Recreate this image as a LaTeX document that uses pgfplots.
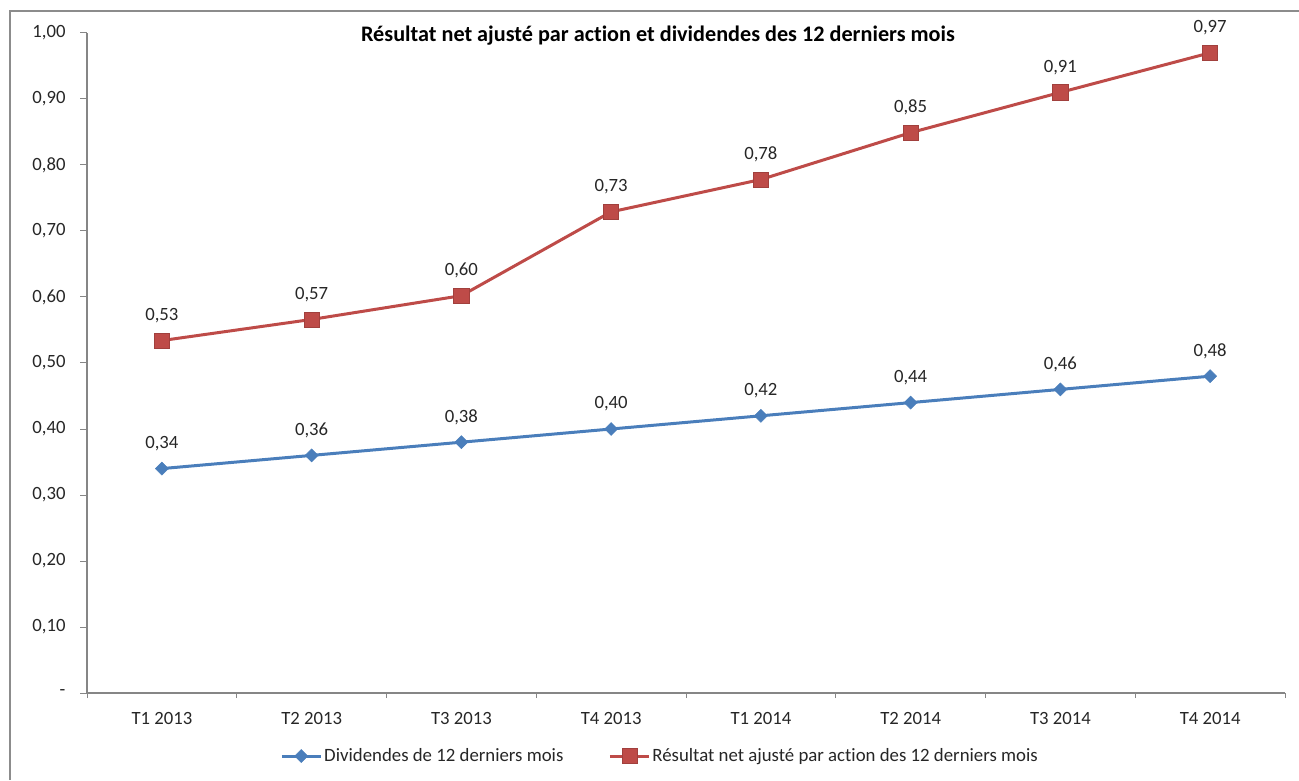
\documentclass[border=0pt]{standalone}
\usepackage{pgfplots}
\pgfplotsset{compat=1.18}
\usepackage{fontspec}
\setmainfont{Carlito}[Ligatures=NoCommon]
\definecolor{serblue}{HTML}{4A7EBB}
\definecolor{serred}{HTML}{BE4B48}
\definecolor{axgray}{HTML}{868686}
\definecolor{txt}{HTML}{262626}

\pgfplotstableread{
x y
0 0.34
1 0.36
2 0.38
3 0.40
4 0.42
5 0.44
6 0.46
7 0.48
}\dividendes
\pgfplotstableread{
x y
0 0.534
1 0.566
2 0.602
3 0.729
4 0.778
5 0.849
6 0.910
7 0.970
}\resultat

\begin{document}
\begin{tikzpicture}[x=1pt,y=1pt]
\useasboundingbox (0,0) rectangle (1299,780);
\draw[color=black!45, line width=1.5pt] (10,0) -- (10,769) -- (1299,769);
\begin{axis}[
  at={(87pt,87pt)}, anchor=south west,
  scale only axis, width=1198pt, height=660pt,
  xmin=-0.5, xmax=7.5, ymin=0, ymax=1,
  axis lines=left,
  axis line style={-, axgray, line width=1.3pt},
  tick align=outside,
  xtick={0,...,7},
  xticklabels={T1 2013,T2 2013,T3 2013,T4 2013,T1 2014,T2 2014,T3 2014,T4 2014},
  major x tick style={draw=none},
  minor xtick={-0.5,0.5,...,7.5},
  minor tick length=5pt,
  major tick length=7pt,
  minor x tick style={axgray, line width=1pt},
  major y tick style={axgray, line width=1pt},
  ytick={0,0.1,...,1.01},
  yticklabels={{-},{0,10},{0,20},{0,30},{0,40},{0,50},{0,60},{0,70},{0,80},{0,90},{1,00}},
  ticklabel style={font=\fontsize{18.7}{20}\selectfont, text=txt},
  yticklabel style={xshift=-11pt},
  xticklabel style={yshift=-9pt},
  /pgf/number format/assume math mode=true,
  title={Résultat net ajusté par action et dividendes des 12 derniers mois},
  title style={at={(0.4766,0.9864)}, anchor=center, yshift=0pt, font=\bfseries\fontsize{22.2}{24}\selectfont, text=black},
  nodes near coords={\pgfmathprintnumber[fixed,fixed zerofill,precision=2,use comma,assume math mode=true]{\pgfplotspointmeta}},
  every node near coord/.append style={anchor=center, yshift=25pt, font=\fontsize{18.7}{20}\selectfont, text=txt},
  legend style={at={(0.4783,-0.0955)}, anchor=center, draw=none, fill=none,
    legend columns=2, font=\fontsize{18.8}{20}\selectfont, text=txt,
    /tikz/every even column/.append style={column sep=43pt},
    nodes={inner xsep=2pt},
  },
  legend image code/.code={\draw[mark repeat=2,mark phase=2] plot coordinates {(0pt,0pt) (19.5pt,0pt) (39pt,0pt)};},
  clip=false,
]
\addplot[color=serblue, line width=3pt, mark=square*, mark size=4.6pt,
  mark options={rotate=45, fill=serblue, draw=serblue, line width=0.5pt}]
  table[x=x,y=y,meta=y] {\dividendes};
\addlegendentry{Dividendes de 12 derniers mois}
\addplot[color=serred, line width=3pt, mark=square*, mark size=7.6pt,
  mark options={fill=serred, draw=serred!85!black, line width=0.6pt}]
  table[x=x,y=y,meta=y] {\resultat};
\addlegendentry{Résultat net ajusté par action des 12 derniers mois}
\end{axis}
\end{tikzpicture}
\end{document}
